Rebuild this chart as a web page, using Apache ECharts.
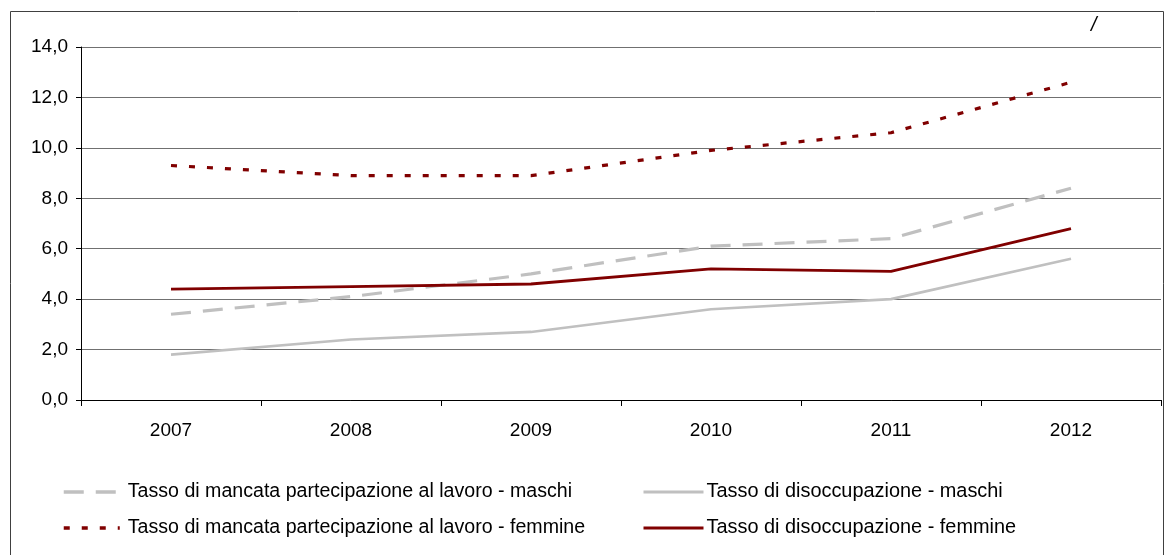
<!DOCTYPE html>
<html>
<head>
<meta charset="utf-8">
<script src="https://cdn.jsdelivr.net/npm/echarts@6/dist/echarts.min.js"></script>
<style>
html,body{margin:0;padding:0;background:#fff;}
#chart{width:1176px;height:555px;}
</style>
</head>
<body>
<div id="chart"></div>
<script>
var years = ['2007','2008','2009','2010','2011','2012'];
var mancataMaschi = [3.4, 4.1, 5.0, 6.1, 6.4, 8.4];
var mancataFemmine = [9.3, 8.9, 8.9, 9.9, 10.6, 12.6];
var disoccMaschi = [1.8, 2.4, 2.7, 3.6, 4.0, 5.6];
var disoccFemmine = [4.4, 4.5, 4.6, 5.2, 5.1, 6.8];
var names = [
  'Tasso di mancata partecipazione al lavoro - maschi',
  'Tasso di mancata partecipazione al lavoro - femmine',
  'Tasso di disoccupazione - maschi',
  'Tasso di disoccupazione - femmine'
];

var FONT = '"Liberation Sans", Arial, sans-serif';
var RED = '#800000', GRAY = '#c0c0c0';
var noSym = {color: 'rgba(0,0,0,0)', borderColor: 'rgba(0,0,0,0)', borderWidth: 0, opacity: 0};

var chart = echarts.init(document.getElementById('chart'));
chart.setOption({
  animation: false,
  textStyle: {fontFamily: FONT},
  grid: {left: 81, right: 15, top: 47, bottom: 155},
  graphic: [
    {type: 'rect', shape: {x: 10.5, y: 11.5, width: 1153, height: 560},
     style: {fill: 'none', stroke: '#404040', lineWidth: 1}, silent: true},
    {type: 'text', left: 1091, top: 15,
     style: {text: '/', fontFamily: FONT, fontSize: 20, fontStyle: 'italic', fill: '#000'}}
  ],
  legend: [
    {orient: 'vertical', left: 57, top: 477, itemWidth: 56, itemHeight: 14, itemGap: 16,
     itemStyle: noSym, lineStyle: {width: 3.5},
     textStyle: {fontFamily: FONT, fontSize: 19.6, lineHeight: 20, color: '#000', padding: [0,0,0,3]},
     data: [names[0], names[1]]},
    {orient: 'vertical', left: 637, top: 477, itemWidth: 60, itemHeight: 14, itemGap: 16,
     itemStyle: noSym, lineStyle: {width: 3},
     textStyle: {fontFamily: FONT, fontSize: 19.9, lineHeight: 20, color: '#000', padding: [0,0,0,-2]},
     data: [names[2], names[3]]}
  ],
  xAxis: {
    type: 'category', data: years, boundaryGap: true,
    axisLine: {lineStyle: {color: '#000', width: 1}},
    axisTick: {show: true, length: 6, lineStyle: {color: '#000'}},
    axisLabel: {color: '#000', fontSize: 19, fontFamily: FONT, margin: 21}
  },
  yAxis: {
    type: 'value', min: 0, max: 14, interval: 2,
    axisLine: {show: true, lineStyle: {color: '#000', width: 1}},
    axisTick: {show: true, length: 5, lineStyle: {color: '#000'}},
    splitLine: {lineStyle: {color: '#707070', width: 1}},
    axisLabel: {color: '#000', fontSize: 19, fontFamily: FONT, margin: 13,
      formatter: function(v){ return v.toFixed(1).replace('.', ','); }}
  },
  series: [
    {name: names[0], type: 'line', data: mancataMaschi, symbol: 'none',
     lineStyle: {color: GRAY, width: 3.2, type: [20, 12]}, itemStyle: {color: GRAY}},
    {name: names[1], type: 'line', data: mancataFemmine, symbol: 'none',
     lineStyle: {color: RED, width: 3.2, type: [6, 12]}, itemStyle: {color: RED}},
    {name: names[2], type: 'line', data: disoccMaschi, symbol: 'none',
     lineStyle: {color: GRAY, width: 2.6}, itemStyle: {color: GRAY}},
    {name: names[3], type: 'line', data: disoccFemmine, symbol: 'none',
     lineStyle: {color: RED, width: 2.8}, itemStyle: {color: RED}}
  ]
});
</script>
</body>
</html>
